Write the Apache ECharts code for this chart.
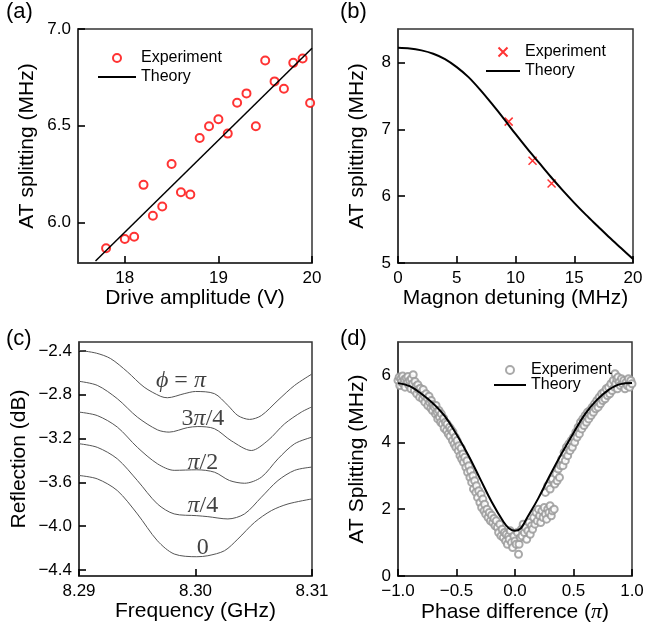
<!DOCTYPE html>
<html><head><meta charset="utf-8">
<script src="https://cdn.jsdelivr.net/npm/echarts@6/dist/echarts.min.js"></script>
<style>html,body{margin:0;padding:0;background:#fff}#c{width:647px;height:631px}</style>
</head><body><div id="c"></div>
<script>
// ---------- (a) ----------
const aExpX = [17.8,18.0,18.1,18.2,18.3,18.4,18.5,18.6,18.7,18.8,18.9,19.0,19.1,19.2,19.3,19.4,19.5,19.6,19.7,19.8,19.9,19.98];
const aExpY = [5.866,5.914,5.926,6.194,6.034,6.082,6.302,6.156,6.144,6.436,6.497,6.533,6.459,6.619,6.667,6.497,6.837,6.729,6.691,6.825,6.847,6.617];
const aThX = [17.687,20.0];
const aThY = [5.80,6.90];
const aTicksX = [18,19,20];
const aTicksY = [6.0,6.5,7.0];
// ---------- (b) ----------
const bExpX = [9.42,11.45,13.07];
const bExpY = [7.115,6.53,6.19];
const bThX = [0,1,2,3,4,5,6,7,8,9,10,11,12,13,14,15,16,17,18,19,20];
const bThY = [8.22,8.21,8.18,8.13,8.05,7.93,7.78,7.59,7.38,7.16,6.93,6.71,6.50,6.29,6.09,5.90,5.72,5.55,5.38,5.22,5.06];
const bTicksX = [0,5,10,15,20];
const bTicksY = [5,6,7,8];
// ---------- (c) ----------
const cPiX   = [8.29,8.29149,8.29272,8.29415,8.29559,8.29702,8.29759,8.29903,8.30,8.30163,8.30278,8.30364,8.30464,8.30565,8.30708,8.30851,8.31];
const cPiY   = [-2.394,-2.42,-2.47,-2.59,-2.73,-2.815,-2.827,-2.79,-2.77,-2.79,-2.897,-2.99,-3.025,-2.99,-2.85,-2.714,-2.61];
const c3q4X  = [8.29,8.29157,8.29329,8.29501,8.29673,8.29774,8.29931,8.30020,8.30163,8.30307,8.30479,8.30622,8.30765,8.30909,8.31];
const c3q4Y  = [-2.677,-2.714,-2.836,-3.004,-3.12,-3.141,-3.10,-3.09,-3.11,-3.22,-3.309,-3.217,-3.065,-2.958,-2.91];
const cHalfX = [8.29,8.29157,8.29329,8.29501,8.29673,8.29817,8.30011,8.30163,8.30292,8.30421,8.30565,8.30708,8.30851,8.31];
const cHalfY = [-2.958,-2.99,-3.095,-3.28,-3.43,-3.49,-3.485,-3.507,-3.583,-3.608,-3.553,-3.385,-3.247,-3.187];
const cQ4X   = [8.29,8.29157,8.29329,8.29501,8.29673,8.29817,8.30011,8.30106,8.30278,8.30421,8.30565,8.30708,8.30851,8.31];
const cQ4Y   = [-3.247,-3.28,-3.385,-3.583,-3.797,-3.888,-3.904,-3.913,-3.934,-3.888,-3.736,-3.583,-3.49,-3.46];
const cZeroX = [8.29,8.29157,8.29329,8.29501,8.29673,8.29817,8.30011,8.30106,8.30249,8.30364,8.30507,8.30651,8.30794,8.31];
const cZeroY = [-3.537,-3.568,-3.675,-3.888,-4.133,-4.254,-4.279,-4.27,-4.224,-4.117,-3.965,-3.858,-3.797,-3.751];
const cTicksX = [8.29,8.30,8.31];
const cTicksY = [-4.4,-4.0,-3.6,-3.2,-2.8,-2.4];
const cLabelText = ['{i|ϕ} = {i|π}','3{i|π}/4','{i|π}/2','{i|π}/4','0'];
const cLabelAt = [[8.29875,-2.675],[8.30064,-3.017],[8.30063,-3.419],[8.30063,-3.812],[8.30063,-4.194]];
// ---------- (d) ----------
const dThX = [-1,-0.9,-0.8,-0.7,-0.6,-0.5,-0.4,-0.3,-0.2,-0.1,-0.05,0,0.05,0.1,0.2,0.3,0.4,0.5,0.6,0.7,0.8,0.9,1];
const dThY = [5.77,5.68,5.45,5.16,4.78,4.24,3.62,2.92,2.22,1.63,1.42,1.35,1.43,1.72,2.33,3.02,3.67,4.28,4.85,5.27,5.57,5.74,5.77];
const dExp = [
[-1.0,5.85],[-0.99,5.95],[-0.985,5.7],[-0.975,5.9],[-0.97,5.8],[-0.96,5.98],[-0.955,5.75],[-0.945,5.88],[-0.94,5.65],[-0.93,5.92],[-0.92,5.78],[-0.915,5.97],[-0.905,5.7],[-0.9,5.85],[-0.89,5.6],[-0.885,5.9],[-0.875,5.75],[-0.87,6.02],[-0.86,5.55],[-0.855,5.82],[-0.845,5.68],[-0.84,5.45],[-0.83,5.72],[-0.825,5.58],[-0.815,5.35],[-0.81,5.62],
[-0.8,5.5],[-0.79,5.3],[-0.785,5.58],[-0.775,5.4],[-0.77,5.2],[-0.76,5.45],[-0.75,5.32],[-0.745,5.1],[-0.735,5.38],[-0.73,5.2],[-0.72,5.02],[-0.715,5.25],[-0.705,4.95],[-0.7,5.12],[-0.69,5.05],[-0.68,4.85],[-0.675,5.1],[-0.665,4.9],[-0.66,4.7],[-0.65,4.95],
[-0.645,4.75],[-0.635,4.6],[-0.63,4.85],[-0.62,4.55],[-0.61,4.72],[-0.605,4.42],[-0.595,4.6],[-0.585,4.35],[-0.58,4.55],[-0.57,4.25],[-0.56,4.45],[-0.555,4.18],[-0.545,4.38],[-0.535,4.05],[-0.53,4.3],[-0.52,3.95],[-0.51,4.15],[-0.505,3.85],
[-0.495,4.05],[-0.485,3.75],[-0.48,3.9],[-0.47,3.6],[-0.46,3.82],[-0.455,3.5],[-0.445,3.65],[-0.44,3.4],[-0.43,3.55],[-0.42,3.25],[-0.41,3.45],[-0.405,3.1],[-0.395,3.3],[-0.385,2.95],[-0.38,3.15],[-0.37,2.8],[-0.36,3.0],[-0.355,2.6],
[-0.345,2.85],[-0.335,2.5],[-0.33,2.7],[-0.32,2.35],[-0.31,2.55],[-0.3,2.2],[-0.29,2.45],[-0.285,2.05],[-0.275,2.3],[-0.265,1.95],[-0.26,2.15],[-0.25,1.85],[-0.24,2.0],[-0.23,1.75],[-0.22,1.9],[-0.21,1.65],[-0.2,1.82],[-0.19,1.6],[-0.18,1.72],[-0.17,1.5],[-0.16,1.65],
[-0.15,1.45],[-0.14,1.3],[-0.13,1.55],[-0.12,1.2],[-0.11,1.4],[-0.1,1.15],[-0.09,1.3],[-0.08,1.05],[-0.075,1.25],[-0.065,0.95],[-0.055,1.2],[-0.05,1.1],[-0.04,1.35],[-0.03,1.0],[-0.02,0.85],[-0.01,1.2],[0.0,1.05],[0.01,0.95],[0.02,1.3],[0.03,0.65],[0.035,0.95],[0.045,1.15],
[0.055,1.4],[0.06,1.2],[0.07,1.55],[0.08,1.3],[0.09,1.45],[0.1,1.1],[0.11,1.35],[0.12,1.6],[0.13,1.25],[0.14,1.5],[0.15,1.4],
[0.16,1.75],[0.17,1.55],[0.18,1.9],[0.19,1.65],[0.2,2.0],[0.21,1.8],[0.22,1.6],[0.23,1.95],[0.24,1.75],[0.25,2.05],[0.26,1.85],[0.27,1.7],[0.28,2.0],[0.29,1.9],[0.3,2.1],[0.31,1.8],[0.32,1.95],[0.335,2.0],
[0.26,2.5],[0.28,2.7],[0.3,2.6],[0.32,2.9],[0.34,2.75],[0.35,3.05],[0.36,2.85],[0.37,3.2],[0.38,2.95],[0.39,3.3],
[0.4,3.5],[0.41,3.3],[0.42,3.7],[0.43,3.45],[0.44,3.85],[0.45,3.6],[0.46,3.95],[0.47,3.75],[0.48,4.05],[0.49,3.85],[0.5,4.15],
[0.51,4.0],[0.52,4.3],[0.53,4.15],[0.54,4.45],[0.55,4.25],[0.56,4.6],[0.57,4.4],[0.58,4.7],[0.59,4.5],[0.6,4.8],[0.61,4.6],[0.62,4.9],[0.63,4.7],[0.64,4.95],[0.65,4.8],[0.66,5.05],[0.67,4.9],[0.68,5.15],[0.69,5.0],[0.7,5.25],
[0.71,5.05],[0.72,5.35],[0.73,5.15],[0.74,5.45],[0.75,5.25],[0.76,5.5],[0.77,5.3],[0.78,5.6],[0.79,5.4],[0.8,5.65],[0.81,5.45],[0.82,5.75],[0.83,5.55],[0.84,5.85],[0.85,5.65],
[0.855,6.05],[0.86,5.75],[0.87,5.9],[0.875,5.6],[0.88,5.95],[0.89,5.8],[0.9,5.7],[0.91,5.9],[0.92,5.75],[0.93,5.85],[0.94,5.6],[0.95,5.8],[0.96,5.7],[0.97,5.9],[0.98,5.65],[0.99,5.85],[1.0,5.75]
];
const dTicksX = [-1,-0.5,0,0.5,1];
const dTicksY = [0,2,4,6];

const zip = (xs, ys) => xs.map((x, i) => [x, ys[i]]);
const FONT = "'Liberation Sans', Arial, Helvetica, sans-serif";
const SERIF = "'Liberation Serif', 'Times New Roman', serif";
const minus = d => v => (v < 0 ? '\u2212' : '') + Math.abs(v).toFixed(d);

function grid(left, top, right, bottom) {
  return {left, top, right, bottom, show: true, borderColor: '#333', borderWidth: 1.5,
    containLabel: false, outerBoundsMode: 'none'};
}
function axis(idx, min, max, ticks, fmt, name, gap, extraName) {
  return {
    gridIndex: idx, type: 'value', min: min, max: max,
    name: name, nameLocation: 'middle', nameGap: gap,
    nameTextStyle: Object.assign({fontSize: 21, fontFamily: FONT, color: '#000'}, extraName || {}),
    axisLine: {show: true, onZero: false, lineStyle: {color: '#333', width: 1.5}},
    axisTick: {show: true, inside: true, length: 7, lineStyle: {color: '#000', width: 1.6}, customValues: ticks},
    axisLabel: {show: true, color: '#000', fontSize: 17, fontFamily: FONT, margin: 7, customValues: ticks, formatter: fmt},
    splitLine: {show: false}
  };
}
const legendFmt = n => n.split('_')[0];
const legendText = {fontSize: 16, fontFamily: FONT, color: '#000'};
const lineOnly = n => ({name: n, itemStyle: {opacity: 0}});
const titleStyle = {fontSize: 22, fontWeight: 'normal', fontFamily: FONT, color: '#000'};

const option = {
  animation: false,
  backgroundColor: '#fff',
  title: [
    {text: '(a)', left: 6, top: 1, padding: 0, textStyle: titleStyle},
    {text: '(b)', left: 340, top: 1, padding: 0, textStyle: titleStyle},
    {text: '(c)', left: 6, top: 328, padding: 0, textStyle: titleStyle},
    {text: '(d)', left: 340, top: 328, padding: 0, textStyle: titleStyle}
  ],
  grid: [grid(78, 29, 335, 368), grid(398, 29, 14, 368), grid(79, 342, 335, 55), grid(398, 342, 15, 55)],
  xAxis: [
    axis(0, 17.5, 20, aTicksX, v => String(Math.round(v)), 'Drive amplitude (V)', 24),
    axis(1, 0, 20, bTicksX, v => String(Math.round(v)), 'Magnon detuning (MHz)', 24),
    axis(2, 8.29, 8.31, cTicksX, v => v.toFixed(2), 'Frequency (GHz)', 23),
    axis(3, -1, 1, dTicksX, minus(1), 'Phase difference ({i|π})', 23,
      {rich: {i: {fontFamily: SERIF, fontStyle: 'italic', fontSize: 22, color: '#000'}}})
  ],
  yAxis: [
    axis(0, 5.79, 7.0, aTicksY, v => v.toFixed(1), 'AT splitting (MHz)', 40),
    axis(1, 5, 8.5, bTicksY, v => String(Math.round(v)), 'AT splitting (MHz)', 30),
    axis(2, -4.455, -2.318, cTicksY, minus(1), 'Reflection (dB)', 49),
    axis(3, 0, 7, dTicksY, v => String(Math.round(v)), 'AT Splitting (MHz)', 30)
  ],
  legend: [
    {orient: 'vertical', left: 97, top: 50, padding: 0, itemWidth: 38, itemHeight: 8, itemGap: 3,
      data: ['Experiment_a', lineOnly('Theory_a')], formatter: legendFmt, textStyle: legendText, selectedMode: false},
    {orient: 'vertical', left: 485, top: 44, padding: 0, itemWidth: 34, itemHeight: 9, itemGap: 3,
      data: ['Experiment_b', lineOnly('Theory_b')], formatter: legendFmt, textStyle: legendText, selectedMode: false},
    {orient: 'vertical', left: 493, top: 362, padding: 0, itemWidth: 32, itemHeight: 8, itemGap: -1,
      data: ['Experiment_d', lineOnly('Theory_d')], formatter: legendFmt, textStyle: legendText, selectedMode: false}
  ],
  series: [
    {name: 'Theory_a', type: 'line', xAxisIndex: 0, yAxisIndex: 0, data: zip(aThX, aThY),
      symbol: 'none', lineStyle: {color: '#000', width: 1.5}, itemStyle: {color: '#000'}},
    {name: 'Experiment_a', type: 'scatter', xAxisIndex: 0, yAxisIndex: 0, data: zip(aExpX, aExpY),
      symbol: 'emptyCircle', symbolSize: 8, itemStyle: {color: '#ff0000', borderColor: '#ff0000', borderWidth: 1.6}},
    {name: 'Theory_b', type: 'line', xAxisIndex: 1, yAxisIndex: 1, data: zip(bThX, bThY), smooth: 0.3,
      symbol: 'none', lineStyle: {color: '#000', width: 2}, itemStyle: {color: '#000'}},
    {name: 'Experiment_b', type: 'scatter', xAxisIndex: 1, yAxisIndex: 1, data: zip(bExpX, bExpY),
      symbol: 'path://M0,0L10,10M10,0L0,10', symbolSize: 8,
      itemStyle: {color: 'rgba(0,0,0,0)', borderColor: '#ff0000', borderWidth: 1.5}},
    {name: 'pi', type: 'line', xAxisIndex: 2, yAxisIndex: 2, data: zip(cPiX, cPiY), smooth: 0.3,
      symbol: 'none', lineStyle: {color: '#555', width: 1}},
    {name: '3pi4', type: 'line', xAxisIndex: 2, yAxisIndex: 2, data: zip(c3q4X, c3q4Y), smooth: 0.3,
      symbol: 'none', lineStyle: {color: '#555', width: 1}},
    {name: 'pi2', type: 'line', xAxisIndex: 2, yAxisIndex: 2, data: zip(cHalfX, cHalfY), smooth: 0.3,
      symbol: 'none', lineStyle: {color: '#555', width: 1}},
    {name: 'pi4', type: 'line', xAxisIndex: 2, yAxisIndex: 2, data: zip(cQ4X, cQ4Y), smooth: 0.3,
      symbol: 'none', lineStyle: {color: '#555', width: 1}},
    {name: 'zero', type: 'line', xAxisIndex: 2, yAxisIndex: 2, data: zip(cZeroX, cZeroY), smooth: 0.3,
      symbol: 'none', lineStyle: {color: '#555', width: 1}},
    {name: 'labels', type: 'scatter', xAxisIndex: 2, yAxisIndex: 2, symbolSize: 0, silent: true,
      data: cLabelAt.map((p, i) => ({value: p, label: {formatter: cLabelText[i]}})),
      label: {show: true, position: 'inside', color: '#111', fontFamily: SERIF, fontSize: 24,
        rich: {i: {fontFamily: SERIF, fontStyle: 'italic', fontSize: 24, color: '#111'}}}},
    {name: 'Experiment_d', type: 'scatter', xAxisIndex: 3, yAxisIndex: 3, data: dExp,
      symbol: 'emptyCircle', symbolSize: 7, itemStyle: {color: '#9a9a9a', borderColor: '#9a9a9a', borderWidth: 1, opacity: 0.85}},
    {name: 'Theory_d', type: 'line', xAxisIndex: 3, yAxisIndex: 3, data: zip(dThX, dThY), smooth: 0.4,
      symbol: 'none', lineStyle: {color: '#000', width: 2}, itemStyle: {color: '#000'}, z: 5}
  ]
};
const chart = echarts.init(document.getElementById('c'), null, {renderer: 'canvas'});
chart.setOption(option);
</script>
</body></html>
